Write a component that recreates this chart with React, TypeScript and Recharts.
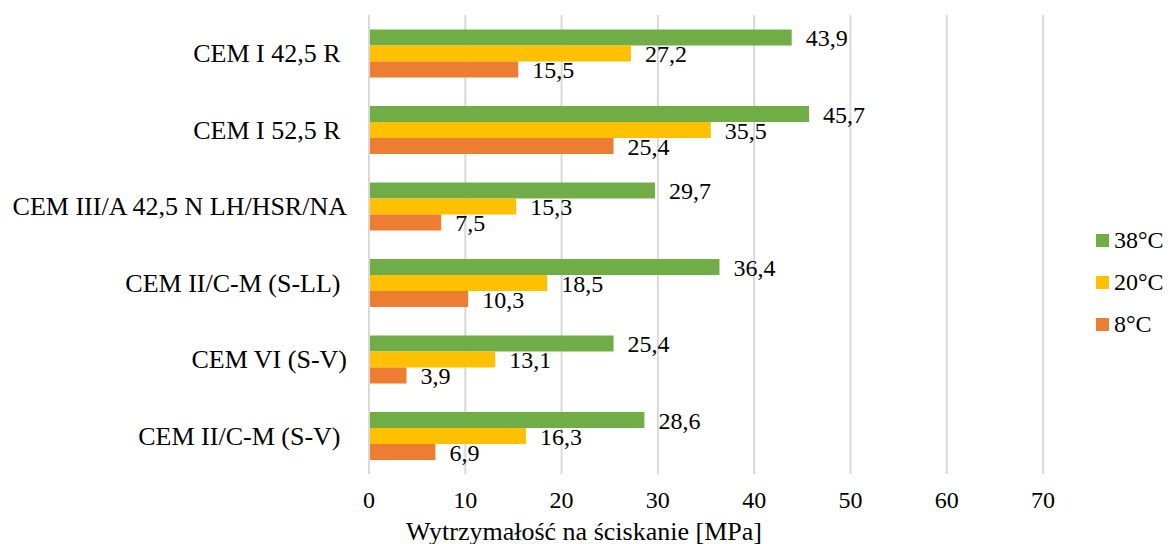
import { BarChart, Bar, XAxis, YAxis, CartesianGrid, Legend, LabelList, Label } from 'recharts';

// trailing no-break spaces kept as typed in the source sheet
const categories = [
  'CEM I 42,5 R\u00a0',
  'CEM I 52,5 R\u00a0',
  'CEM III/A 42,5 N LH/HSR/NA',
  'CEM II/C-M (S-LL)\u00a0',
  'CEM VI (S-V)',
  'CEM II/C-M (S-V)\u00a0',
];
const temp38 = [43.9, 45.7, 29.7, 36.4, 25.4, 28.6];
const temp20 = [27.2, 35.5, 15.3, 18.5, 13.1, 16.3];
const temp8 = [15.5, 25.4, 7.5, 10.3, 3.9, 6.9];
const xTicks = [0, 10, 20, 30, 40, 50, 60, 70];

const series = [
  { key: 't38', name: '38°C', color: '#70AD47' },
  { key: 't20', name: '20°C', color: '#FFC000' },
  { key: 't8', name: '8°C', color: '#ED7D31' },
];

const data = categories.map((name, i) => ({ name, t38: temp38[i], t20: temp20[i], t8: temp8[i] }));

const FONT = "'Liberation Serif', 'Times New Roman', serif";
const fmt = (v: number) => v.toFixed(1).replace('.', ',');

const SideLegend = () => (
  <div className="side-legend" style={{ display: 'flex', flexDirection: 'column', gap: 15, fontSize: 24, color: '#000' }}>
    {series.map((s) => (
      <div key={s.key} style={{ display: 'flex', alignItems: 'center', gap: 5, lineHeight: '27px' }}>
        <div style={{ width: 13, height: 13, background: s.color }} />
        <span>{s.name}</span>
      </div>
    ))}
  </div>
);

export default function App() {
  return (
    <div
      className="chart-root"
      style={{ position: 'absolute', left: 0, top: 0, width: 1170, height: 544, background: '#fff', overflow: 'hidden', fontFamily: FONT }}
    >
      <style>{`.chart-root, .chart-root text, .chart-root tspan, .side-legend { font-family: ${FONT} !important; }`}</style>
      <BarChart
        width={1170}
        height={544}
        data={data}
        layout="vertical"
        margin={{ top: 15, right: 47, bottom: 0, left: 0 }}
        barGap={0}
        barCategoryGap="19%"
      >
        <CartesianGrid horizontal={false} stroke="#D9D9D9" strokeWidth={2} />
        <XAxis
          type="number"
          domain={[0, 70]}
          ticks={xTicks}
          axisLine={false}
          tickLine={false}
          height={70}
          tickMargin={11}
          tick={{ fontSize: 24, fill: '#000' }}
        >
          <Label
            value="Wytrzymałość na ściskanie [MPa]"
            position="insideBottom"
            offset={4}
            dx={-122}
            style={{ fontSize: 26, fill: '#000' }}
          />
        </XAxis>
        <YAxis
          type="category"
          dataKey="name"
          width={369}
          tickLine={false}
          axisLine={{ stroke: '#D9D9D9', strokeWidth: 2 }}
          tickMargin={16}
          tick={{ fontSize: 26, fill: '#000' }}
        />
        <Legend
          layout="vertical"
          align="right"
          verticalAlign="middle"
          content={<SideLegend />}
          wrapperStyle={{ position: 'absolute', left: 1096, top: 227, width: 80 }}
        />
        {series.map((s) => (
          <Bar key={s.key} dataKey={s.key} name={s.name} fill={s.color} isAnimationActive={false}>
            <LabelList
              dataKey={s.key}
              position="right"
              offset={14}
              formatter={(v: any) => fmt(Number(v))}
              style={{ fontSize: 24, fill: '#000' }}
            />
          </Bar>
        ))}
      </BarChart>
    </div>
  );
}
